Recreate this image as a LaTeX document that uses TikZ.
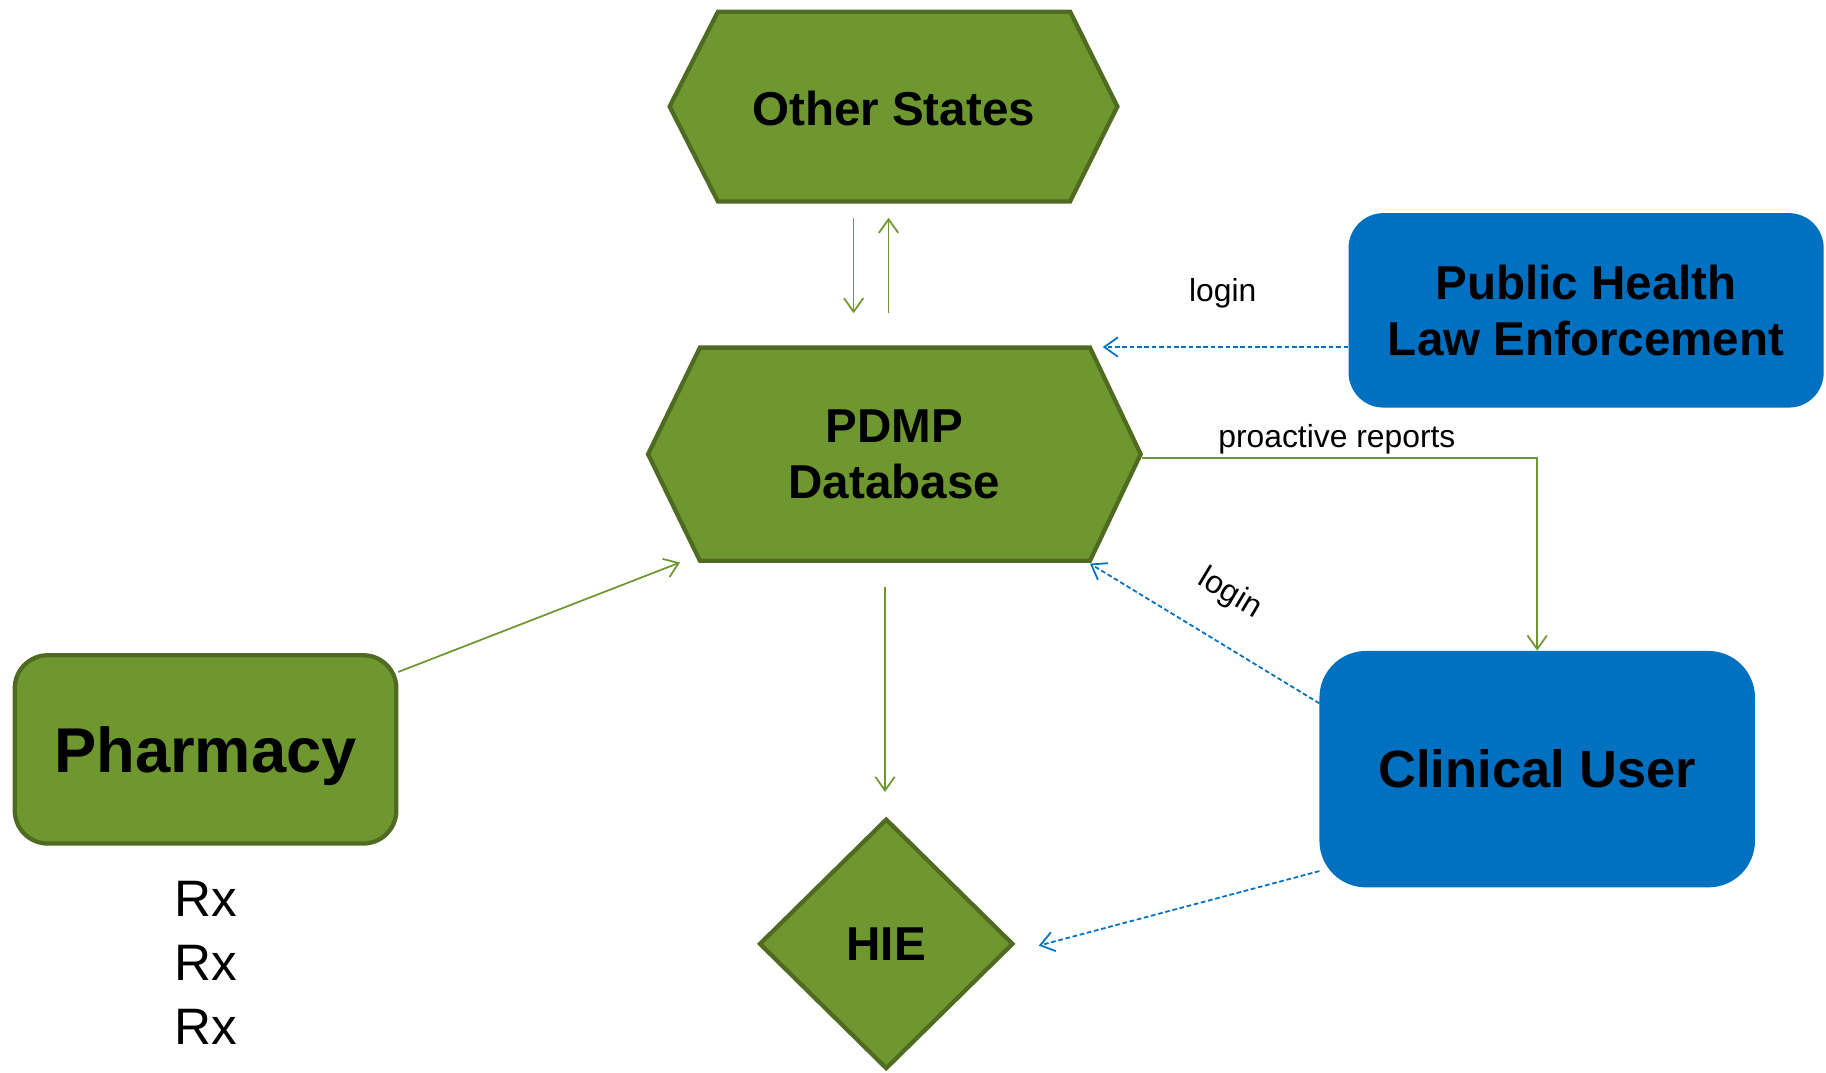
\documentclass[tikz,border=0pt]{standalone}
\usepackage{fontspec}
\setmainfont{Liberation Sans}
\usetikzlibrary{arrows.meta,shapes.geometric,calc}
\definecolor{leaf}{HTML}{6F972F}
\definecolor{leafedge}{HTML}{4F6B22}
\definecolor{sky}{HTML}{0070C0}

\begin{document}
\begin{tikzpicture}[x=0.6pt,y=-0.6pt,
  hexshape/.style={fill=leaf,draw=leafedge,line width=2.2pt,line join=miter},
  bigtext/.style={font=\fontsize{24.5}{29}\selectfont\bfseries,align=center},
  greenbox/.style={rectangle,rounded corners=17pt,fill=leaf,draw=leafedge,line width=2.2pt,inner sep=0pt},
  bluebox/.style={rectangle,fill=sky,inner sep=0pt},
  tipv/.style={-{Straight Barb[length=7pt,width=10pt]}},
  flow/.style={draw=leaf,line width=0.9pt,tipv},
  access/.style={draw=sky,line width=0.9pt,dash pattern=on 2.4pt off 1.4pt,tipv},
  note/.style={font=\fontsize{16.4}{20}\selectfont},
  rxtext/.style={font=\fontsize{26.4}{33}\selectfont,anchor=base}
]
\useasboundingbox (0,0) rectangle (1568,921);

% hexagon outlines
\draw[hexshape] (575,91.5) -- (616.5,10) -- (918.9,10) -- (959.5,91.5) -- (918.9,173) -- (616.5,173) -- cycle;
\draw[hexshape] (556.5,390) -- (601,298.5) -- (936,298.5) -- (979.5,390) -- (936,481.5) -- (601,481.5) -- cycle;

% labelled shapes
\node[bigtext] (other) at (767.3,93) {Other States};
\node[bigtext] (pdmp) at (768,390) {PDMP\\Database};
\node[bluebox,rounded corners=18pt,minimum width=244.8pt,minimum height=100.2pt,bigtext] (ph) at (1362,266.5) {Public Health\\Law Enforcement};
\node[bluebox,rounded corners=24pt,minimum width=224.4pt,minimum height=121.8pt,font=\fontsize{27}{32}\selectfont\bfseries] (cu) at (1320,660.5) {Clinical User};
\node[greenbox,minimum width=196.6pt,minimum height=97pt,text depth=0pt,font=\fontsize{32.6}{38}\selectfont\bfseries] (pharm) at (176.5,643.5) {Pharmacy};
\node[diamond,fill=leaf,draw=leafedge,line width=2.2pt,minimum width=131pt,minimum height=129pt,inner sep=0pt,bigtext] (hie) at (761,810.5) {HIE};

% prescriptions
\node[rxtext] (rx1) at (177,787) {Rx};
\node[rxtext] (rx2) at (177,842) {Rx};
\node[rxtext] (rx3) at (177,897) {Rx};

% connector labels
\node[note,anchor=base] (loginA) at (1050,259) {login};
\node[note,anchor=base] (proact) at (1148,384) {proactive reports};
\node[note,rotate=-31,inner sep=0pt] (loginB) at (1056,510) {login};

% connector end points
\coordinate (os-out) at (733,187);
\coordinate (pd-in) at (733,269);
\coordinate (pd-out) at (763,269);
\coordinate (os-in) at (763,187);
\coordinate (pd-ne) at (947,298);
\coordinate (pd-e) at (981,393);
\coordinate (pd-se) at (936,484);
\coordinate (pd-sw) at (584,483);
\coordinate (pd-s) at (760,504);
\coordinate (hie-n) at (760,680);
\coordinate (hie-e) at (892,812);
\coordinate (cu-a) at (1133,604);
\coordinate (cu-b) at (1133,748);
\coordinate (ph-a) at (342,577);

% connectors
\draw[flow] (os-out) -- (pd-in);
\draw[flow] (pd-out) -- (os-in);
\draw[access] (pd-ne -| ph.west) -- (pd-ne);
\draw[flow] (pd-e) -| (cu.north);
\draw[access] (cu-a) -- (pd-se);
\draw[flow] (ph-a) -- (pd-sw);
\draw[flow] (pd-s) -- (hie-n);
\draw[access] (cu-b) -- (hie-e);
\end{tikzpicture}
\end{document}
